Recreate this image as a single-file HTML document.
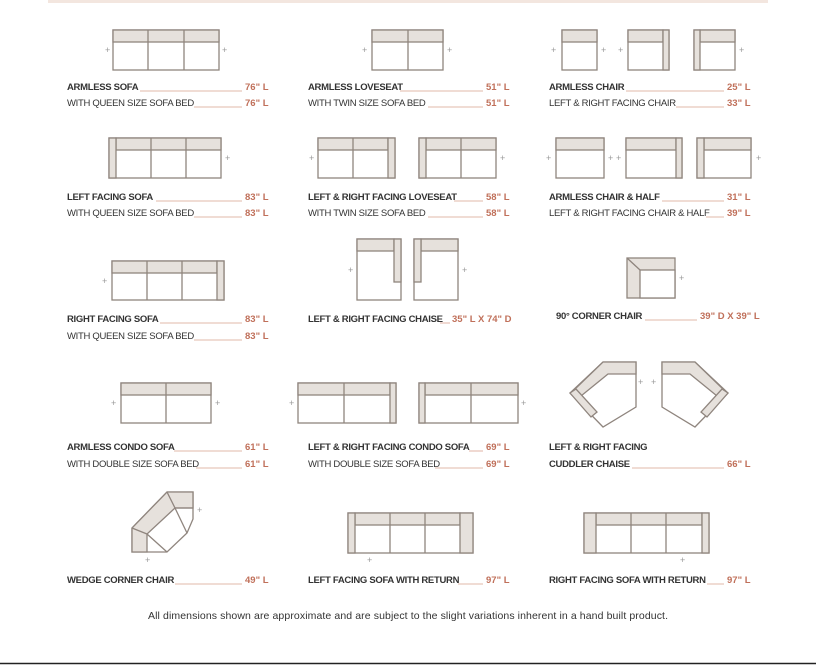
<!DOCTYPE html>
<html><head><meta charset="utf-8"><style>
html,body{margin:0;padding:0;background:#fff}
svg{display:block}
.s{fill:#fff;stroke:#8f857e;stroke-width:1.3}
.b{fill:#e6e1dc;stroke:#8f857e;stroke-width:1.3}
.p{font:9px "Liberation Sans",sans-serif;fill:#999}
.t{font:bold 9.5px "Liberation Sans",sans-serif;fill:#333;letter-spacing:-0.3px}
.n{font:9.5px "Liberation Sans",sans-serif;fill:#333;letter-spacing:-0.3px}
.d{font:bold 9.5px "Liberation Sans",sans-serif;fill:#c0705a}
.u{stroke:#d9a08e;stroke-width:0.8}
.f{font:10.5px "Liberation Sans",sans-serif;fill:#333}
</style></head><body>
<svg width="816" height="666" viewBox="0 0 816 666" xmlns="http://www.w3.org/2000/svg">
<rect x="48" y="0" width="720" height="3" fill="#f3e6df"/>
<line x1="0" y1="663.5" x2="816" y2="663.5" stroke="#222" stroke-width="1.5"/>

<!-- Row1 -->
<rect class="s" x="113" y="30" width="106" height="40"/><rect class="b" x="113" y="30" width="106" height="12"/>
<line class="s" x1="148" y1="30" x2="148" y2="70"/><line class="s" x1="184" y1="30" x2="184" y2="70"/>
<text class="p" x="105" y="53">+</text><text class="p" x="222" y="53">+</text>

<rect class="s" x="372" y="30" width="71" height="40"/><rect class="b" x="372" y="30" width="71" height="12"/>
<line class="s" x1="408" y1="30" x2="408" y2="70"/>
<text class="p" x="362" y="53">+</text><text class="p" x="447" y="53">+</text>

<rect class="s" x="562" y="30" width="35" height="40"/><rect class="b" x="562" y="30" width="35" height="12"/>
<text class="p" x="551" y="53">+</text><text class="p" x="601" y="53">+</text>
<rect class="s" x="628" y="30" width="41" height="40"/><rect class="b" x="628" y="30" width="35" height="12"/><rect class="b" x="663" y="30" width="6" height="40"/>
<text class="p" x="618" y="53">+</text>
<rect class="s" x="694" y="30" width="41" height="40"/><rect class="b" x="700" y="30" width="35" height="12"/><rect class="b" x="694" y="30" width="6" height="40"/>
<text class="p" x="739" y="53">+</text>

<text class="t" x="67" y="90">ARMLESS SOFA</text><line class="u" x1="140" y1="91" x2="242" y2="91"/><text class="d" x="245" y="90">76" L</text>
<text class="n" x="67" y="106">WITH  QUEEN SIZE SOFA BED</text><line class="u" x1="194" y1="107" x2="242" y2="107"/><text class="d" x="245" y="106">76" L</text>
<text class="t" x="308" y="90">ARMLESS LOVESEAT</text><line class="u" x1="400" y1="91" x2="483" y2="91"/><text class="d" x="486" y="90">51" L</text>
<text class="n" x="308" y="106">WITH  TWIN SIZE SOFA BED</text><line class="u" x1="428" y1="107" x2="483" y2="107"/><text class="d" x="486" y="106">51" L</text>
<text class="t" x="549" y="90">ARMLESS CHAIR</text><line class="u" x1="626" y1="91" x2="724" y2="91"/><text class="d" x="727" y="90">25" L</text>
<text class="n" x="549" y="106">LEFT &amp; RIGHT FACING CHAIR</text><line class="u" x1="676" y1="107" x2="724" y2="107"/><text class="d" x="727" y="106">33" L</text>

<!-- Row2 -->
<rect class="s" x="109" y="138" width="112" height="40"/><rect class="b" x="116" y="138" width="105" height="12"/><rect class="b" x="109" y="138" width="7" height="40"/>
<line class="s" x1="151" y1="138" x2="151" y2="178"/><line class="s" x1="186" y1="138" x2="186" y2="178"/>
<text class="p" x="225" y="161">+</text>

<rect class="s" x="318" y="138" width="77" height="40"/><rect class="b" x="318" y="138" width="70" height="12"/><rect class="b" x="388" y="138" width="7" height="40"/>
<line class="s" x1="353" y1="138" x2="353" y2="178"/>
<text class="p" x="309" y="161">+</text>
<rect class="s" x="419" y="138" width="77" height="40"/><rect class="b" x="426" y="138" width="70" height="12"/><rect class="b" x="419" y="138" width="7" height="40"/>
<line class="s" x1="461" y1="138" x2="461" y2="178"/>
<text class="p" x="500" y="161">+</text>

<rect class="s" x="556" y="138" width="48" height="40"/><rect class="b" x="556" y="138" width="48" height="12"/>
<text class="p" x="546" y="161">+</text><text class="p" x="608" y="161">+</text>
<rect class="s" x="626" y="138" width="56" height="40"/><rect class="b" x="626" y="138" width="50" height="12"/><rect class="b" x="676" y="138" width="6" height="40"/>
<text class="p" x="616" y="161">+</text>
<rect class="s" x="697" y="138" width="54" height="40"/><rect class="b" x="704" y="138" width="47" height="12"/><rect class="b" x="697" y="138" width="7" height="40"/>
<text class="p" x="756" y="161">+</text>

<text class="t" x="67" y="200">LEFT FACING SOFA</text><line class="u" x1="156" y1="201" x2="242" y2="201"/><text class="d" x="245" y="200">83" L</text>
<text class="n" x="67" y="216">WITH  QUEEN SIZE SOFA BED</text><line class="u" x1="194" y1="217" x2="242" y2="217"/><text class="d" x="245" y="216">83" L</text>
<text class="t" x="308" y="200">LEFT &amp; RIGHT FACING LOVESEAT</text><line class="u" x1="454" y1="201" x2="483" y2="201"/><text class="d" x="486" y="200">58" L</text>
<text class="n" x="308" y="216">WITH  TWIN SIZE SOFA BED</text><line class="u" x1="428" y1="217" x2="483" y2="217"/><text class="d" x="486" y="216">58" L</text>
<text class="t" x="549" y="200">ARMLESS CHAIR &amp; HALF</text><line class="u" x1="662" y1="201" x2="724" y2="201"/><text class="d" x="727" y="200">31" L</text>
<text class="n" x="549" y="216">LEFT &amp; RIGHT FACING CHAIR &amp; HALF</text><line class="u" x1="706" y1="217" x2="724" y2="217"/><text class="d" x="727" y="216">39" L</text>

<!-- Row3 -->
<rect class="s" x="112" y="261" width="112" height="39"/><rect class="b" x="112" y="261" width="105" height="12"/><rect class="b" x="217" y="261" width="7" height="39"/>
<line class="s" x1="147" y1="261" x2="147" y2="300"/><line class="s" x1="182" y1="261" x2="182" y2="300"/>
<text class="p" x="102" y="284">+</text>

<rect class="s" x="357" y="239" width="44" height="61"/><rect class="b" x="357" y="239" width="37" height="12"/><rect class="b" x="394" y="239" width="7" height="43"/>
<text class="p" x="348" y="273">+</text>
<rect class="s" x="414" y="239" width="44" height="61"/><rect class="b" x="421" y="239" width="37" height="12"/><rect class="b" x="414" y="239" width="7" height="43"/>
<text class="p" x="462" y="273">+</text>

<rect class="b" x="627" y="258" width="48" height="40"/><rect class="s" x="640" y="270" width="35" height="28"/>
<line class="s" x1="627" y1="258" x2="640" y2="270"/>
<text class="p" x="679" y="281">+</text>

<text class="t" x="67" y="322">RIGHT FACING SOFA</text><line class="u" x1="160" y1="323" x2="242" y2="323"/><text class="d" x="245" y="322">83" L</text>
<text class="n" x="67" y="339">WITH  QUEEN SIZE SOFA BED</text><line class="u" x1="194" y1="340" x2="242" y2="340"/><text class="d" x="245" y="339">83" L</text>
<text class="t" x="308" y="322">LEFT &amp; RIGHT FACING CHAISE</text><line class="u" x1="440" y1="323" x2="450" y2="323"/><text class="d" x="452" y="322">35" L X 74" D</text>
<text class="t" x="556" y="319">90° CORNER CHAIR</text><line class="u" x1="645" y1="320" x2="697" y2="320"/><text class="d" x="700" y="319">39" D X 39" L</text>

<!-- Row4 -->
<rect class="s" x="121" y="383" width="90" height="40"/><rect class="b" x="121" y="383" width="90" height="12"/>
<line class="s" x1="166" y1="383" x2="166" y2="423"/>
<text class="p" x="111" y="406">+</text><text class="p" x="215" y="406">+</text>

<rect class="s" x="298" y="383" width="98" height="40"/><rect class="b" x="298" y="383" width="92" height="12"/><rect class="b" x="390" y="383" width="6" height="40"/>
<line class="s" x1="344" y1="383" x2="344" y2="423"/>
<text class="p" x="289" y="406">+</text>
<rect class="s" x="419" y="383" width="99" height="40"/><rect class="b" x="425" y="383" width="93" height="12"/><rect class="b" x="419" y="383" width="6" height="40"/>
<line class="s" x1="471" y1="383" x2="471" y2="423"/>
<text class="p" x="521" y="406">+</text>

<polygon class="s" points="603,362 636,362 636,407 603,427 570,393"/>
<polygon class="b" points="603,362 636,362 636,374 608,374 581,396 573,391"/>
<polygon class="b" points="570,393 576,389 597,412 591,417"/>
<text class="p" x="638" y="385">+</text><text class="p" x="651" y="385">+</text>
<polygon class="s" points="662,362 695,362 728,393 695,427 662,407"/>
<polygon class="b" points="662,362 695,362 725,391 717,396 690,374 662,374"/>
<polygon class="b" points="728,393 722,389 701,412 707,417"/>

<text class="t" x="67" y="450">ARMLESS CONDO SOFA</text><line class="u" x1="174" y1="451" x2="242" y2="451"/><text class="d" x="245" y="450">61" L</text>
<text class="n" x="67" y="467">WITH DOUBLE SIZE SOFA BED</text><line class="u" x1="196" y1="468" x2="242" y2="468"/><text class="d" x="245" y="467">61" L</text>
<text class="t" x="308" y="450">LEFT &amp; RIGHT FACING CONDO SOFA</text><line class="u" x1="469" y1="451" x2="483" y2="451"/><text class="d" x="486" y="450">69" L</text>
<text class="n" x="308" y="467">WITH DOUBLE SIZE SOFA BED</text><line class="u" x1="435" y1="468" x2="483" y2="468"/><text class="d" x="486" y="467">69" L</text>
<text class="t" x="549" y="450">LEFT &amp; RIGHT FACING</text>
<text class="t" x="549" y="467">CUDDLER CHAISE</text><line class="u" x1="632" y1="468" x2="724" y2="468"/><text class="d" x="727" y="467">66" L</text>

<!-- Row5 -->
<polygon class="s" points="167,492 193,492 193,519 187,533 167,552 132,552 132,528"/>
<polygon class="b" points="167,492 193,492 193,508 175,508 147,534 147,552 132,552 132,528"/>
<line class="s" x1="167" y1="492" x2="175" y2="508"/>
<line class="s" x1="132" y1="528" x2="147" y2="534"/>
<line class="s" x1="175" y1="508" x2="187" y2="533"/>
<line class="s" x1="147" y1="534" x2="167" y2="552"/>
<line class="s" x1="175" y1="508" x2="193" y2="508"/>
<text class="p" x="197" y="513">+</text><text class="p" x="145" y="563">+</text>

<rect class="s" x="348" y="513" width="125" height="40"/><rect class="b" x="355" y="513" width="105" height="12"/>
<rect class="b" x="348" y="513" width="7" height="40"/><rect class="b" x="460" y="513" width="13" height="40"/>
<line class="s" x1="390" y1="513" x2="390" y2="553"/><line class="s" x1="425" y1="513" x2="425" y2="553"/>
<text class="p" x="367" y="563">+</text>
<rect class="s" x="584" y="513" width="125" height="40"/><rect class="b" x="596" y="513" width="106" height="12"/>
<rect class="b" x="584" y="513" width="12" height="40"/><rect class="b" x="702" y="513" width="7" height="40"/>
<line class="s" x1="631" y1="513" x2="631" y2="553"/><line class="s" x1="666" y1="513" x2="666" y2="553"/>
<text class="p" x="680" y="563">+</text>

<text class="t" x="67" y="583">WEDGE CORNER CHAIR</text><line class="u" x1="175" y1="584" x2="242" y2="584"/><text class="d" x="245" y="583">49" L</text>
<text class="t" x="308" y="583">LEFT FACING SOFA WITH RETURN</text><line class="u" x1="458" y1="584" x2="483" y2="584"/><text class="d" x="486" y="583">97" L</text>
<text class="t" x="549" y="583">RIGHT FACING SOFA WITH RETURN</text><line class="u" x1="707" y1="584" x2="724" y2="584"/><text class="d" x="727" y="583">97" L</text>

<text class="f" x="408" y="619" text-anchor="middle" textLength="520">All dimensions shown are approximate and are subject to the slight variations inherent in a hand built product.</text>
</svg>
</body></html>
